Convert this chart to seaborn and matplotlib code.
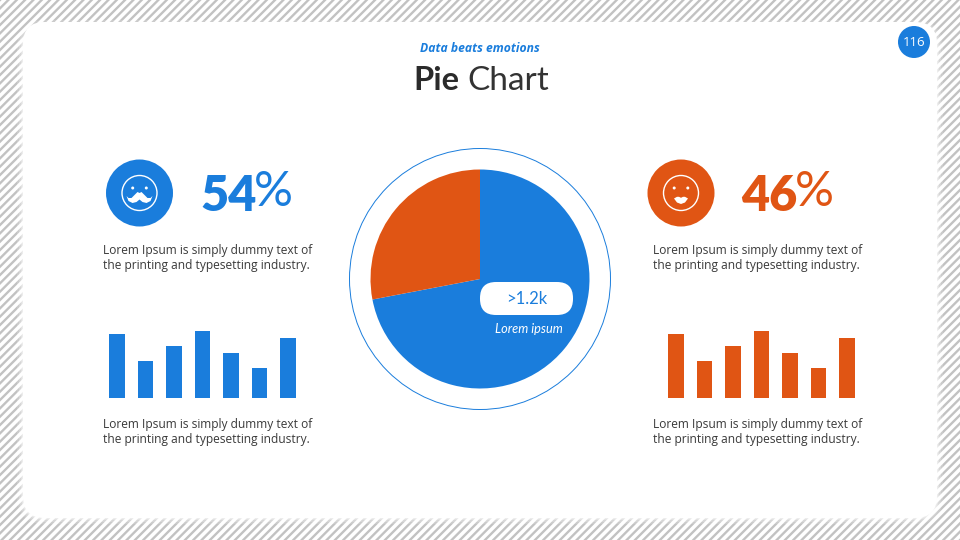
import matplotlib
matplotlib.use("Agg")
import matplotlib.pyplot as plt
from matplotlib.patches import Rectangle, FancyBboxPatch, Circle
import pandas as pd
import seaborn as sns

BLUE = "#1a7ddc"
ORANGE = "#e05514"
TEXT = "#3a3a3a"

pie_labels = ["Blue", "Orange"]
pie_values = [72, 28]
bar_categories = ["A", "B", "C", "D", "E", "F", "G"]
bar_values = [64, 37, 52, 67, 45, 30, 60]
left_pct = "54%"
right_pct = "46%"
title_bold = "Pie"
title_light = "Chart"
kicker = "Data beats emotions"
body = "Lorem Ipsum is simply dummy text of\nthe printing and typesetting industry."

sns.set_theme(style="white")
plt.rcParams["hatch.linewidth"] = 1.7
W, H = 960, 540
fig = plt.figure(figsize=(9.6, 5.4), dpi=100, facecolor="white")


def px_axes(x0, y0, x1, y1, zorder):
    ax = fig.add_axes([x0 / W, 1 - y1 / H, (x1 - x0) / W, (y1 - y0) / H], zorder=zorder)
    ax.set_axis_off()
    return ax


def card(ax, x0, y0, x1, y1, r, **kw):
    ax.add_patch(FancyBboxPatch((x0 + r, y0 + r), x1 - x0 - 2 * r, y1 - y0 - 2 * r,
                                boxstyle=f"round,pad={r},rounding_size={r}", ec="none", **kw))


# background and card
bg = px_axes(0, 0, W, H, 0)
bg.set_xlim(0, W)
bg.set_ylim(H, 0)
bg.add_patch(Rectangle((0, 0), W, H, facecolor="white", edgecolor="#c2c2c2", hatch="////", lw=0))
for grow, alpha in [(6, 0.15), (4, 0.22), (2, 0.3), (1, 0.35)]:
    card(bg, 23 - grow, 22 - grow + 4, 937 + grow, 518 + grow, 22 + grow, fc="white", alpha=alpha)
card(bg, 23, 22, 937, 518, 22, fc="white")

# page number
bg.add_patch(Circle((914, 42), 16, fc=BLUE, ec="none"))
bg.text(914, 42.5, "116", color="white", fontsize=9.5, family="Open Sans", ha="center", va="center")

# headings
bg.text(479.5, 48.5, kicker, color=BLUE, fontsize=8.7, family="Open Sans", weight="bold", style="italic",
        ha="center", va="center")
bg.text(413, 90, title_bold, color="#2b2b2b", fontsize=23.5, family="Lato", weight="bold", ha="left", va="baseline")
bg.text(467, 90, title_light, color="#333333", fontsize=24, family="Lato", weight="normal", ha="left", va="baseline")

# ring
bg.add_patch(Circle((480, 279), 130.5, fc="white", ec=BLUE, lw=0.7))

# pie
pie_ax = px_axes(480 - 109.5, 279 - 109.5, 480 + 109.5, 279 + 109.5, 1)
pie_ax.pie(pie_values, colors=[BLUE, ORANGE], startangle=90, counterclock=False, radius=1,
           wedgeprops={"linewidth": 0})
pie_ax.set_xlim(-1, 1)
pie_ax.set_ylim(-1, 1)

# overlay
fg = px_axes(0, 0, W, H, 2)
fg.set_xlim(0, W)
fg.set_ylim(H, 0)
fg.patch.set_alpha(0)
fg.add_patch(FancyBboxPatch((496, 298), 61, 1, boxstyle="round,pad=16,rounding_size=16", fc="white", ec="none"))
fg.text(526.5, 299.5, ">1.2k", color=BLUE, fontsize=12, family="Lato", weight="normal", ha="center", va="center")
fg.text(528.5, 329, "Lorem ipsum", color="white", fontsize=9.2, family="Lato", style="italic", ha="center", va="center")

MOUSTACHE_X = [-13, -11, -8, -5, -2, 0, 2, 5, 8, 11, 13, 11, 7, 3, 0, -3, -7, -11]
MOUSTACHE_Y = [3, 5, 5, 2, -1, 0, -1, 2, 5, 5, 3, 8, 10, 9, 6.5, 9, 10, 8]
LIPS_X = [-7, -4, -2, 0, 2, 4, 7, 4, 0, -4]
LIPS_Y = [5.5, 3.8, 3.8, 4.8, 3.8, 3.8, 5.5, 9.5, 11, 9.5]


def face(cx, cy, r, color, xs, ys):
    fg.add_patch(Circle((cx, cy), r, fc=color, ec="none"))
    fg.add_patch(Circle((cx, cy), 17.5, fc="none", ec="white", lw=1.0))
    fg.add_patch(Circle((cx - 6.8, cy - 5), 1.5, fc="white", ec="none"))
    fg.add_patch(Circle((cx + 6.8, cy - 5), 1.5, fc="white", ec="none"))
    fg.fill([cx + v for v in xs], [cy + v for v in ys], color="white", lw=0)


face(139.5, 193, 33.5, BLUE, MOUSTACHE_X, MOUSTACHE_Y)
face(681, 193, 33.5, ORANGE, LIPS_X, LIPS_Y)

# big numbers
for x, label, color in [(200, left_pct, BLUE), (741, right_pct, ORANGE)]:
    fg.text(x, 211, label[:2], color=color, fontsize=35, family="Lato", weight="heavy", ha="left", va="baseline")
    fg.text(x + 54, 206, label[2:], color=color, fontsize=35, family="Lato", weight="normal", ha="left", va="baseline")

# body text
for x, y in [(103, 258), (653, 258), (103, 432), (653, 432)]:
    fg.text(x, y, body, color=TEXT, fontsize=8.68, family="Open Sans", ha="left", va="center", linespacing=1.25)

# small bars
frame = pd.DataFrame({"category": bar_categories, "value": bar_values})
for x_first, color in [(117, BLUE), (676, ORANGE)]:
    step = 28.5
    bar_ax = px_axes(x_first - step / 2, 318, x_first + 6.5 * step, 398, 2)
    sns.barplot(data=frame, x="category", y="value", color=color, saturation=1, width=0.56, ax=bar_ax, linewidth=0)
    bar_ax.set_ylim(0, 80)
    bar_ax.set_xlim(-0.5, 6.5)
    bar_ax.set_axis_off()

fig.savefig("out.png", dpi=100)
